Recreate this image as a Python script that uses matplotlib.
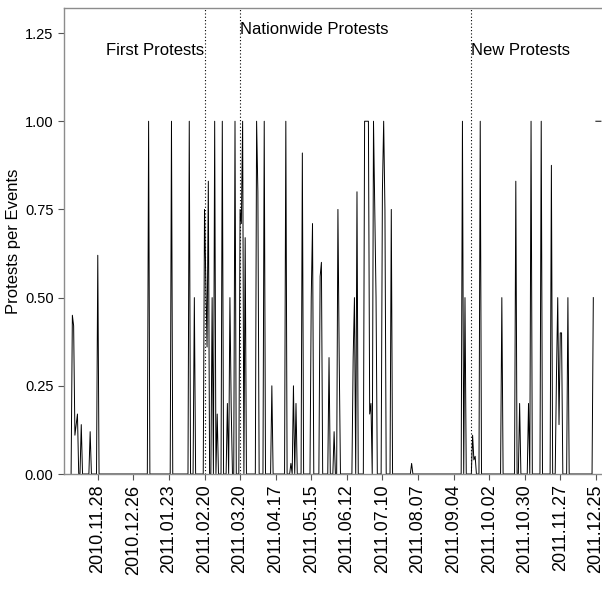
import pandas as pd
import matplotlib
matplotlib.use("Agg")
import matplotlib.pyplot as plt
import matplotlib.dates as mdates

# Protests per events, daily series (days not listed are 0)
event_dates = [
    "2010-11-08", "2010-11-09", "2010-11-10", "2010-11-11", "2010-11-12",
    "2010-11-15", "2010-11-22", "2010-11-28",
    "2011-01-07", "2011-01-25", "2011-02-08", "2011-02-12",
    "2011-02-20", "2011-02-21", "2011-02-22", "2011-02-23", "2011-02-26",
    "2011-02-28", "2011-03-02", "2011-03-06", "2011-03-10", "2011-03-12",
    "2011-03-13", "2011-03-16", "2011-03-20", "2011-03-21", "2011-03-22",
    "2011-03-24", "2011-04-02", "2011-04-03", "2011-04-08", "2011-04-14",
    "2011-04-25", "2011-04-29", "2011-05-01", "2011-05-03", "2011-05-08",
    "2011-05-15", "2011-05-16", "2011-05-22", "2011-05-23", "2011-05-29",
    "2011-06-02", "2011-06-05", "2011-06-06", "2011-06-17", "2011-06-18",
    "2011-06-20", "2011-06-26", "2011-06-27", "2011-06-28", "2011-06-29",
    "2011-06-30", "2011-07-01", "2011-07-03", "2011-07-04", "2011-07-05",
    "2011-07-10", "2011-07-11", "2011-07-12", "2011-07-17", "2011-08-02",
    "2011-09-11", "2011-09-13", "2011-09-19", "2011-09-20", "2011-09-21",
    "2011-09-25", "2011-10-12", "2011-10-23", "2011-10-26", "2011-11-02",
    "2011-11-04", "2011-11-12", "2011-11-20", "2011-11-24", "2011-11-25",
    "2011-11-26", "2011-11-27", "2011-11-28", "2011-12-03", "2011-12-23",
    "2011-12-25", "2011-12-26", "2011-12-27", "2011-12-28", "2011-12-29",
]
event_values = [
    0.45, 0.42, 0.11, 0.14, 0.17,
    0.14, 0.12, 0.62,
    1.00, 1.00, 1.00, 0.50,
    0.75, 0.56, 0.36, 0.83, 0.50,
    1.00, 0.17, 1.00, 0.20, 0.50,
    0.19, 1.00, 0.75, 0.71, 1.00,
    0.67, 1.00, 0.80, 1.00, 0.25,
    1.00, 0.03, 0.25, 0.20, 0.91,
    0.50, 0.71, 0.56, 0.60, 0.33,
    0.12, 0.75, 0.33, 0.33, 0.50,
    0.80, 1.00, 1.00, 1.00, 1.00,
    0.17, 0.20, 1.00, 0.75, 0.50,
    0.80, 1.00, 0.75, 0.75, 0.03,
    1.00, 0.50, 0.11, 0.04, 0.05,
    1.00, 0.50, 0.83, 0.20, 0.20,
    1.00, 1.00, 0.875, 0.28, 0.50,
    0.14, 0.40, 0.40, 0.50, 0.50,
    1.00, 1.00, 1.00, 1.00, 1.00,
]
series_start = "2010-11-07"
series_end = "2011-12-29"
missing_dates = ["2011-12-24"]

phase_dates = ["2011-02-20", "2011-03-20", "2011-09-18"]
phase_labels = ["First Protests", "Nationwide Protests", "New Protests"]
phase_label_y = [1.20, 1.26, 1.20]

tick_dates = pd.date_range("2010-11-28", "2011-12-25", freq="28D")

# build the daily series
s = pd.Series(event_values, index=pd.to_datetime(event_dates))
days = pd.date_range(series_start, series_end, freq="D")
s = s.reindex(days).fillna(0.0)
s[pd.to_datetime(missing_dates)] = float("nan")

plt.rcParams["font.family"] = ["Liberation Sans", "DejaVu Sans"]

fig = plt.figure(figsize=(6.02, 5.90), dpi=100)
ax = fig.add_axes([64 / 602, 1 - 474 / 590, 1 - 64 / 602, (474 - 8) / 590])

ax.plot(s.index, s.values, color="black", linewidth=0.7)

for d, lab, y in zip(phase_dates, phase_labels, phase_label_y):
    dt = pd.Timestamp(d)
    ax.axvline(dt, color="black", linestyle=(0, (1, 2)), linewidth=0.8)
    ha = "right" if lab == "First Protests" else "left"
    ax.text(dt, y, lab, ha=ha, va="center", fontsize=12)

ax.set_xlim(pd.Timestamp("2010-11-01 10:00"), pd.Timestamp("2011-12-29 20:00"))
ax.set_ylim(0, 1.321)
ax.set_yticks([0, 0.25, 0.5, 0.75, 1.0, 1.25])
ax.set_yticklabels(["0.00", "0.25", "0.50", "0.75", "1.00", "1.25"])
ax.set_xticks(tick_dates)
ax.xaxis.set_major_formatter(mdates.DateFormatter("%Y.%m.%d"))
plt.setp(ax.get_xticklabels(), rotation=90, ha="center", va="top")

ax.set_ylabel("Protests per Events", fontsize=12, labelpad=3)
ax.tick_params(axis="y", labelsize=10.5, length=4.5, width=0.8,
               color="#555555", pad=3)
ax.tick_params(axis="x", labelsize=13, length=4.5, width=0.8,
               color="#555555", pad=3)

for side in ["left", "top", "bottom"]:
    ax.spines[side].set_color("#8c8c8c")
    ax.spines[side].set_linewidth(1.0)
ax.spines["right"].set_visible(False)

fig.savefig("out.png", dpi=100)
